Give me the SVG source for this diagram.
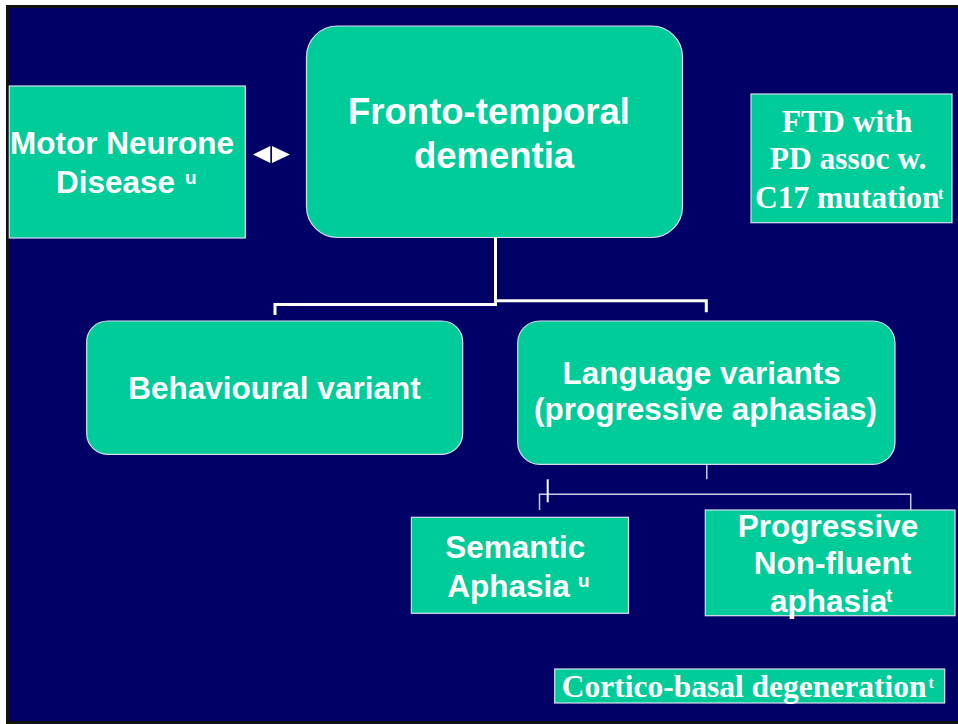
<svg xmlns="http://www.w3.org/2000/svg" width="958" height="724" viewBox="0 0 958 724">
<style>
.box{fill:#00CC99;stroke:#dcdcf0;stroke-width:1.2}
.sans{font-family:"Liberation Sans",Arial,sans-serif;font-weight:bold;fill:#ffffff}
.serif{font-family:"Liberation Serif","Times New Roman",serif;font-weight:bold;fill:#ffffff}
.t31{font-size:31.5px}
.sup{font-size:19px}
.supS{font-size:16px}
.conn{fill:none;stroke:#ffffff;stroke-width:3;stroke-linejoin:miter}
.thin{fill:none;stroke:#c8c8e8;stroke-width:1.5}
</style>
<rect x="0" y="0" width="958" height="724" fill="#ffffff"/>
<rect x="7.5" y="6.5" width="960" height="716" fill="#000066" stroke="#111111" stroke-width="3"/>

<g id="connectors">
  <path class="conn" d="M495.5 238 V304.5 H275 V315"/>
  <path class="conn" d="M495.5 300.7 H706.3 V312.3"/>
  <path class="thin" d="M706.8 465 V479.3"/>
  <path class="thin" d="M539.5 510 V494.3 H910.7 V518.3"/>
  <path fill="none" stroke="#ffffff" stroke-width="2" d="M547.7 479.3 V502.3"/>
  <g id="double-arrow" fill="#ffffff">
    <polygon points="253,154.5 270.3,146 270.3,163"/>
    <polygon points="290,154.5 272,146 272,163"/>
  </g>
</g>

<g id="motor-neurone">
  <rect class="box" x="9.3" y="86" width="236" height="152"/>
  <text class="sans t31" x="122" y="154" text-anchor="middle">Motor Neurone</text>
  <text class="sans t31" x="56" y="193">Disease</text>
  <text class="sans sup" x="185" y="184">u</text>
</g>

<g id="ftd">
  <rect class="box" x="306.5" y="26" width="376" height="211.5" rx="31" ry="31"/>
  <text class="sans" font-size="36.5" x="489" y="124" text-anchor="middle">Fronto-temporal</text>
  <text class="sans" font-size="36.5" x="494" y="168" text-anchor="middle">dementia</text>
</g>

<g id="ftd-pd">
  <rect class="box" x="751" y="94" width="201" height="128.7"/>
  <text class="serif t31" x="847" y="131.5" text-anchor="middle">FTD with</text>
  <text class="serif t31" x="848" y="169" text-anchor="middle">PD assoc w.</text>
  <text class="serif t31" x="755" y="207.5">C17 mutation</text>
  <text class="serif supS" x="938" y="199">t</text>
</g>

<g id="behavioural">
  <rect class="box" x="86.7" y="321" width="376" height="133.3" rx="21" ry="21"/>
  <text class="sans t31" x="274.5" y="399" text-anchor="middle">Behavioural variant</text>
</g>

<g id="language">
  <rect class="box" x="517.7" y="321" width="377.3" height="143.3" rx="22" ry="22"/>
  <text class="sans t31" x="701.7" y="384" text-anchor="middle">Language variants</text>
  <text class="sans t31" x="705.5" y="420" text-anchor="middle">(progressive aphasias)</text>
</g>

<g id="semantic">
  <rect class="box" x="411.4" y="517.3" width="217.1" height="96"/>
  <text class="sans t31" x="515.3" y="558" text-anchor="middle">Semantic</text>
  <text class="sans t31" x="447.3" y="597">Aphasia</text>
  <text class="sans sup" x="578" y="587">u</text>
</g>

<g id="pnfa">
  <rect class="box" x="705.3" y="510" width="249.7" height="105.7"/>
  <text class="sans t31" x="828" y="537" text-anchor="middle">Progressive</text>
  <text class="sans t31" x="832.5" y="574" text-anchor="middle">Non-fluent</text>
  <text class="sans t31" x="770" y="612">aphasia</text>
  <text class="sans sup" x="886" y="602">t</text>
</g>

<g id="cbd">
  <rect class="box" x="554.7" y="669" width="390" height="34"/>
  <text class="serif t31" x="561.7" y="697.3">Cortico-basal degeneration</text>
  <text class="serif supS" x="928.5" y="688">t</text>
</g>
</svg>
